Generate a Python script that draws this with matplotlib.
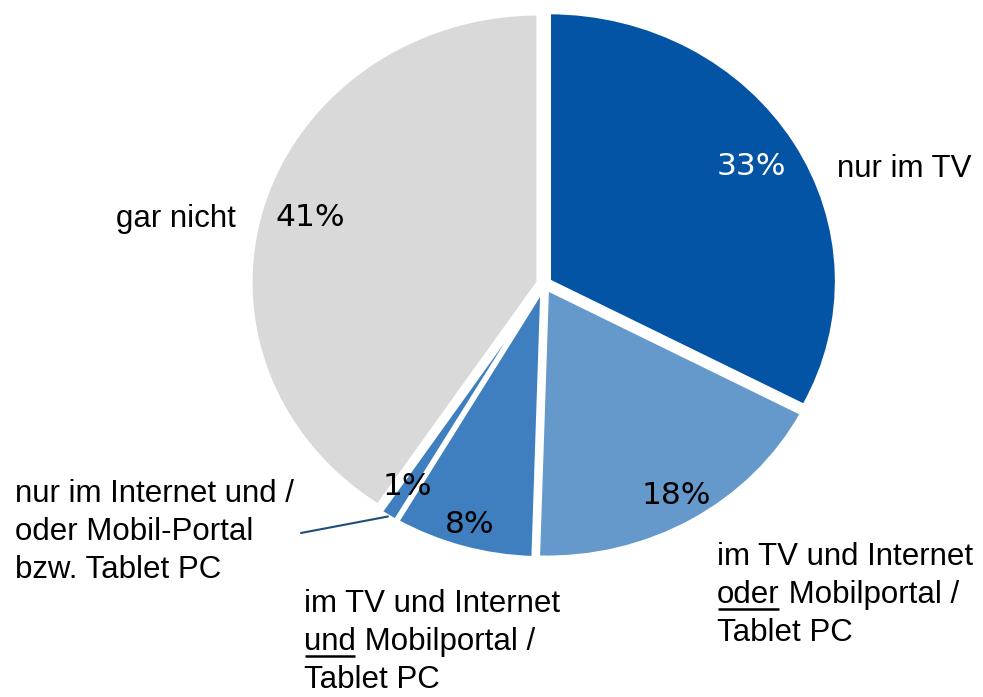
import numpy as np
import matplotlib.pyplot as plt

# Daten
anteile = [33, 18, 8, 1, 41]
farben = ["#0454A5", "#6699CB", "#3F7FBF", "#3F7FBF", "#D9D9D9"]
pct_farben = ["white", "black", "black", "black", "black"]
pct_abstand = [0.82, 0.89, 0.91, 0.87, 0.83]

W, H = 983, 697
CX, CY = 544, 284     # Mittelpunkt in Pixel (von oben)
RX, RY = 288, 269     # Radius in Pixel


def px(x, y):
    # Pixel -> Datenkoordinaten
    return (x - CX) / RX, (CY - y) / RY


fig = plt.figure(figsize=(W / 100, H / 100), dpi=100)
ax = fig.add_axes([0, 0, 1, 1])

wedges, texts, autotexts = ax.pie(
    anteile, colors=farben, startangle=90, counterclock=False,
    explode=[0.02] * len(anteile),
    wedgeprops=dict(edgecolor="white", linewidth=3),
    autopct=lambda p: f"{p * sum(anteile) / 100:.0f}%", pctdistance=0.87,
    textprops=dict(fontsize=22.5, family="DejaVu Sans"),
)
for w, t, c, d in zip(wedges, autotexts, pct_farben, pct_abstand):
    t.set_color(c)
    mitte = np.deg2rad((w.theta1 + w.theta2) / 2)
    t.set_position((w.center[0] + d * np.cos(mitte), w.center[1] + d * np.sin(mitte)))

ax.set_aspect("auto")
ax.set_xlim(-CX / RX, (W - CX) / RX)
ax.set_ylim(-(H - CY) / RY, CY / RY)
ax.axis("off")

schrift = dict(fontsize=22.5, family="Liberation Sans", color="black")

ax.text(*px(837, 177), "nur im TV", ha="left", va="baseline", **schrift)
ax.text(*px(236, 227), "gar nicht", ha="right", va="baseline", **schrift)

linien_links = ["nur im Internet und /", "oder Mobil-Portal", "bzw. Tablet PC"]
for zeile, y in zip(linien_links, [502, 540, 578]):
    ax.text(*px(15, y), zeile, ha="left", va="baseline", **schrift)

unterstrichen = []


def label_block(x, ys, zeile1, wort, rest, zeile3):
    ax.text(*px(x, ys[0]), zeile1, ha="left", va="baseline", **schrift)
    t = ax.text(*px(x, ys[1]), wort, ha="left", va="baseline", **schrift)
    ax.annotate(rest, xy=(1, 0), xycoords=t, ha="left", va="bottom", **schrift)
    ax.text(*px(x, ys[2]), zeile3, ha="left", va="baseline", **schrift)
    unterstrichen.append(t)


label_block(717, [565, 603, 641], "im TV und Internet", "oder", " Mobilportal /", "Tablet PC")
label_block(304, [612, 650, 688], "im TV und Internet", "und", " Mobilportal /", "Tablet PC")

# Unterstreichungen
fig.canvas.draw()
inv = ax.transData.inverted()
for t in unterstrichen:
    bb = t.get_window_extent()
    (x0, y0), (x1, _) = inv.transform([(bb.x0 + 1, bb.y0 + 1.5), (bb.x1 - 1, bb.y0)])
    ax.plot([x0, x1], [y0, y0], color="black", lw=1.8, solid_capstyle="butt")

# Verbindungslinie zum 1%-Segment
w = wedges[3]
mitte = np.deg2rad((w.theta1 + w.theta2) / 2)
ziel = (w.center[0] + 1.0 * np.cos(mitte), w.center[1] + 1.0 * np.sin(mitte))
ax.annotate("", xy=ziel, xytext=px(301, 533),
            arrowprops=dict(arrowstyle="-", color="#1F4E79", lw=1.5, shrinkA=0, shrinkB=0))

plt.savefig("out.png", dpi=100)
